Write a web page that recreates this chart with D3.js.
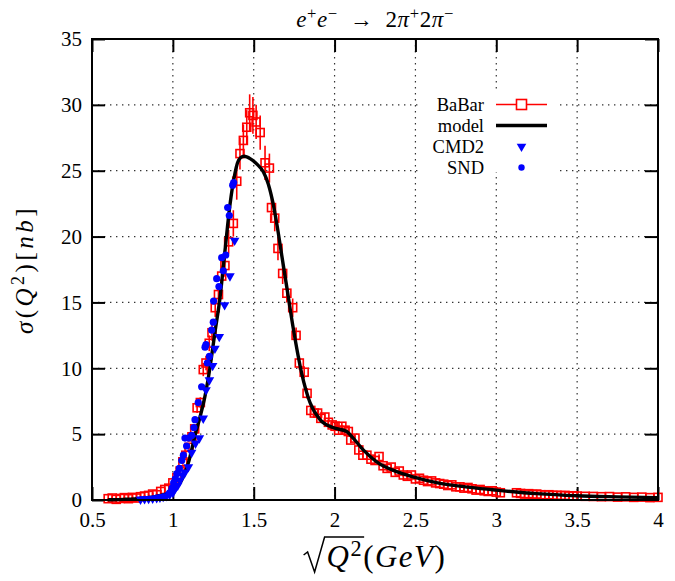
<!DOCTYPE html>
<html>
<head>
<meta charset="utf-8">
<script src="https://cdn.jsdelivr.net/npm/d3@7"></script>
<style>
  body { margin: 0; background: #fff; }
  text { font-family: "Liberation Serif", "DejaVu Serif", serif; fill: #000; }
</style>
</head>
<body>
<div id="chart"></div>
<script>
// axis ticks
let xTicks = [0.5, 1, 1.5, 2, 2.5, 3, 3.5, 4];
let xTickLabels = ["0.5", "1", "1.5", "2", "2.5", "3", "3.5", "4"];
let yTicks = [0, 5, 10, 15, 20, 25, 30, 35];
let yTickLabels = ["0", "5", "10", "15", "20", "25", "30", "35"];

// BaBar: energy (GeV), cross section (nb), error
let babarE = [
  0.600, 0.625, 0.650, 0.675, 0.700, 0.725, 0.750, 0.775, 0.800, 0.825,
  0.850, 0.875, 0.900, 0.925, 0.950, 0.975, 1.000, 1.025, 1.045, 1.062,
  1.080, 1.100, 1.118, 1.135, 1.150, 1.170, 1.188, 1.205, 1.225, 1.242,
  1.262, 1.282, 1.302, 1.322, 1.345, 1.374, 1.395, 1.415, 1.436, 1.457,
  1.475, 1.495, 1.515, 1.540, 1.570, 1.597, 1.610, 1.630, 1.650, 1.679,
  1.705, 1.741, 1.762, 1.782, 1.812, 1.830, 1.853, 1.875, 1.895, 1.915,
  1.940, 1.962, 1.985, 2.003, 2.025, 2.045, 2.065, 2.085, 2.100, 2.126,
  2.150, 2.175, 2.200, 2.225, 2.250, 2.275, 2.300, 2.325, 2.350, 2.375,
  2.400, 2.425, 2.450, 2.475, 2.500, 2.525, 2.550, 2.575, 2.600, 2.625,
  2.650, 2.675, 2.700, 2.725, 2.750, 2.775, 2.800, 2.825, 2.850, 2.875,
  2.900, 2.925, 2.950, 2.975, 3.000, 3.025, 3.125, 3.150, 3.175, 3.200,
  3.225, 3.250, 3.275, 3.300, 3.325, 3.350, 3.375, 3.400, 3.425, 3.450,
  3.475, 3.500, 3.550, 3.600, 3.650, 3.700, 3.750, 3.800, 3.850, 3.900,
  3.950, 4.000
];
let babarSigma = [
  0.10, 0.15, 0.05, 0.12, 0.18, 0.10, 0.20, 0.15, 0.25, 0.30,
  0.35, 0.45, 0.40, 0.65, 0.80, 0.90, 1.30, 1.70, 2.20, 2.90,
  3.40, 4.00, 4.80, 5.40, 7.00, 7.40, 9.90, 10.4, 11.9, 12.7,
  14.6, 15.6, 17.0, 17.8, 19.6, 21.0, 24.2, 26.3, 27.3, 28.3,
  29.4, 29.2, 28.7, 27.9, 25.6, 25.2, 22.2, 21.4, 19.1, 17.2,
  15.7, 14.6, 12.5, 10.4, 9.7, 8.1, 6.8, 6.6, 6.6, 6.2,
  6.3, 5.9, 5.7, 5.6, 5.3, 5.6, 5.3, 5.2, 4.55, 4.7,
  3.8, 3.4, 3.4, 3.1, 3.0, 3.3, 2.6, 2.4, 2.5, 2.1,
  2.2, 1.9, 1.8, 1.9, 1.6, 1.65, 1.5, 1.4, 1.45, 1.3,
  1.25, 1.2, 1.1, 1.15, 1.0, 1.0, 0.9, 0.95, 0.85, 0.75,
  0.8, 0.7, 0.65, 0.7, 0.6, 0.55, 0.55, 0.50, 0.45, 0.48,
  0.42, 0.45, 0.40, 0.38, 0.40, 0.35, 0.36, 0.33, 0.35, 0.30,
  0.32, 0.30, 0.28, 0.27, 0.25, 0.26, 0.22, 0.24, 0.20, 0.22,
  0.18, 0.20
];
let babarErr = [
  0.05, 0.05, 0.05, 0.05, 0.06, 0.06, 0.06, 0.07, 0.07, 0.08,
  0.08, 0.09, 0.10, 0.10, 0.12, 0.13, 0.15, 0.18, 0.20, 0.22,
  0.25, 0.28, 0.30, 0.35, 0.40, 0.40, 0.50, 0.55, 0.60, 0.60,
  0.70, 0.75, 0.80, 0.85, 0.90, 1.00, 1.40, 1.20, 1.20, 1.30,
  1.40, 1.40, 1.30, 1.30, 1.30, 1.10, 1.00, 1.00, 0.90, 0.80,
  0.70, 0.70, 0.60, 0.50, 0.45, 0.40, 0.35, 0.35, 0.30, 0.30,
  0.30, 0.30, 0.28, 0.28, 0.27, 0.27, 0.26, 0.26, 0.25, 0.25,
  0.22, 0.20, 0.20, 0.20, 0.18, 0.18, 0.17, 0.16, 0.16, 0.15,
  0.15, 0.14, 0.14, 0.13, 0.12, 0.12, 0.12, 0.11, 0.11, 0.10,
  0.10, 0.10, 0.10, 0.10, 0.09, 0.09, 0.09, 0.09, 0.08, 0.08,
  0.08, 0.08, 0.07, 0.07, 0.07, 0.07, 0.07, 0.07, 0.06, 0.06,
  0.06, 0.06, 0.06, 0.06, 0.06, 0.05, 0.05, 0.05, 0.05, 0.05,
  0.05, 0.05, 0.05, 0.05, 0.05, 0.05, 0.05, 0.05, 0.05, 0.05,
  0.05, 0.05
];

// model curve
let modelE = [
  0.60, 0.70, 0.80, 0.90, 0.95, 1.00, 1.05, 1.10, 1.137, 1.168,
  1.199, 1.23, 1.261, 1.29, 1.323, 1.353, 1.384, 1.40, 1.42, 1.44,
  1.48, 1.52, 1.56, 1.59, 1.62, 1.645, 1.673, 1.704, 1.745, 1.797,
  1.848, 1.91, 1.99, 2.075, 2.115, 2.177, 2.26, 2.384, 2.497, 2.63,
  2.838, 3.0, 3.25, 3.5, 3.75, 4.0
];
let modelSigma = [
  0.02, 0.05, 0.12, 0.28, 0.42, 0.65, 1.4, 3.0, 4.9, 6.3,
  7.9, 10.1, 12.8, 15.2, 19.0, 22.4, 24.8, 25.6, 26.0, 26.1,
  25.9, 25.5, 24.9, 24.0, 22.5, 20.8, 18.6, 16.2, 13.0, 9.6,
  7.4, 6.1, 5.5, 5.2, 4.7, 3.8, 2.9, 2.15, 1.72, 1.32,
  0.96, 0.75, 0.48, 0.32, 0.24, 0.18
];

// CMD2
let cmd2E = [
  0.800, 0.825, 0.850, 0.875, 0.900, 0.920, 0.940, 0.960, 0.980, 1.000,
  1.015, 1.030, 1.045, 1.060, 1.075, 1.096, 1.116, 1.140, 1.164, 1.188,
  1.205, 1.226, 1.246, 1.260, 1.287, 1.320, 1.353, 1.382
];
let cmd2Sigma = [
  0.05, 0.08, 0.10, 0.12, 0.15, 0.20, 0.25, 0.30, 0.40, 0.55,
  0.90, 1.10, 1.50, 1.90, 2.10, 2.50, 3.60, 4.30, 4.70, 6.20,
  8.35, 9.10, 10.2, 11.5, 12.4, 14.8, 17.0, 19.7
];

// SND
let sndE = [
  0.980, 0.995, 1.005, 1.015, 1.025, 1.040, 1.055, 1.065, 1.075, 1.085,
  1.098, 1.116, 1.130, 1.137, 1.157, 1.178, 1.199, 1.205, 1.213, 1.226,
  1.240, 1.250, 1.252, 1.271, 1.285, 1.302, 1.312, 1.327, 1.339, 1.349,
  1.370, 1.376
];
let sndSigma = [
  0.55, 0.90, 1.30, 1.60, 2.00, 2.40, 3.00, 3.40, 4.70, 4.10,
  4.70, 4.90, 5.50, 6.10, 7.40, 8.60, 11.6, 11.8, 10.4, 10.9,
  12.9, 13.5, 15.1, 16.8, 16.2, 18.4, 17.4, 18.6, 22.2, 21.6,
  23.9, 24.1
];

let svgWidth = 675;
let svgHeight = 581;
let margin = { top: 39, right: 17, bottom: 81, left: 92 };
let width = svgWidth - margin.left - margin.right;
let height = svgHeight - margin.top - margin.bottom;

let svg = d3.select("#chart")
  .append("svg")
  .attr("width", svgWidth)
  .attr("height", svgHeight)
  .style("display", "block");

let chart = svg.append("g")
  .attr("transform", `translate(${margin.left}, ${margin.top})`);

let x = d3.scaleLinear().domain([0.5, 4]).range([0, width]);
let y = d3.scaleLinear().domain([0, 35]).range([height, 0]);

// dotted grid
let gridStyle = g => g.attr("stroke", "#333").attr("stroke-width", 1.2).attr("stroke-dasharray", "1.4,4.6");
chart.append("g").call(gridStyle)
  .selectAll("line").data(xTicks.slice(1, -1)).join("line")
  .attr("x1", d => x(d)).attr("x2", d => x(d))
  .attr("y1", 0).attr("y2", height);
chart.append("g").call(gridStyle)
  .selectAll("line").data(yTicks.slice(1, -1)).join("line")
  .attr("y1", d => y(d)).attr("y2", d => y(d))
  .attr("x1", 0).attr("x2", width);

// opaque key box
let key = { x: 326, y: 51, w: 139, h: 82 };
chart.append("rect")
  .attr("x", key.x).attr("y", key.y)
  .attr("width", key.w).attr("height", key.h)
  .attr("fill", "#fff");

// axes with inward ticks on all four sides
function styleAxis(g, fontSize) {
  g.select(".domain").remove();
  g.selectAll(".tick line").attr("stroke", "#000").attr("stroke-width", 2);
  g.selectAll(".tick text")
    .attr("font-family", "Liberation Serif, DejaVu Serif, serif")
    .attr("font-size", fontSize)
    .attr("fill", "#000");
}

chart.append("g")
  .attr("transform", `translate(0, ${height})`)
  .call(d3.axisBottom(x).tickValues(xTicks).tickFormat((d, i) => xTickLabels[i]).tickSize(-13).tickPadding(12))
  .call(g => styleAxis(g, 21));
chart.append("g")
  .call(d3.axisTop(x).tickValues(xTicks).tickFormat("").tickSize(-13))
  .call(g => styleAxis(g, 21));
chart.append("g")
  .call(d3.axisLeft(y).tickValues(yTicks).tickFormat((d, i) => yTickLabels[i]).tickSize(-13).tickPadding(10))
  .call(g => styleAxis(g, 21));
chart.append("g")
  .attr("transform", `translate(${width}, 0)`)
  .call(d3.axisRight(y).tickValues(yTicks).tickFormat("").tickSize(-13))
  .call(g => styleAxis(g, 21));

// BaBar points with error bars
let babar = babarE.map((e, i) => ({ e: e, s: babarSigma[i], err: babarErr[i] }));
let boxSize = 8;

chart.append("g")
  .selectAll("line").data(babar).join("line")
  .attr("x1", d => x(d.e)).attr("x2", d => x(d.e))
  .attr("y1", d => y(d.s - d.err)).attr("y2", d => y(d.s + d.err))
  .attr("stroke", "#ff0000").attr("stroke-width", 1.6);

chart.append("g")
  .selectAll("rect").data(babar).join("rect")
  .attr("x", d => x(d.e) - boxSize / 2)
  .attr("y", d => y(d.s) - boxSize / 2)
  .attr("width", boxSize).attr("height", boxSize)
  .attr("fill", "none").attr("stroke", "#ff0000").attr("stroke-width", 1.6);

// model
let line = d3.line()
  .x((d, i) => x(modelE[i]))
  .y(d => y(d))
  .curve(d3.curveMonotoneX);

chart.append("path")
  .datum(modelSigma)
  .attr("d", line)
  .attr("fill", "none")
  .attr("stroke", "#000")
  .attr("stroke-width", 3.4)
  .attr("stroke-linejoin", "round");

// CMD2 down triangles
let tri = d3.symbol().type(d3.symbolTriangle).size(40);
chart.append("g")
  .selectAll("path").data(cmd2E).join("path")
  .attr("d", tri)
  .attr("transform", (d, i) => `translate(${x(d)}, ${y(cmd2Sigma[i])}) rotate(180)`)
  .attr("fill", "#0000ff");

// SND dots
chart.append("g")
  .selectAll("circle").data(sndE).join("circle")
  .attr("cx", d => x(d))
  .attr("cy", (d, i) => y(sndSigma[i]))
  .attr("r", 3.6)
  .attr("fill", "#0000ff");

// frame
chart.append("rect")
  .attr("width", width).attr("height", height)
  .attr("fill", "none").attr("stroke", "#000").attr("stroke-width", 2);

// key
let keyTextX = 392;
let keySampleX1 = 404, keySampleX2 = 455, keyMid = 429.5;
let keyRows = [65.5, 86.5, 107.5, 128.5];
let keyNames = ["BaBar", "model", "CMD2", "SND"];

chart.append("g")
  .selectAll("text").data(keyNames).join("text")
  .attr("x", keyTextX)
  .attr("y", (d, i) => keyRows[i] + 6)
  .attr("text-anchor", "end")
  .attr("font-size", 18.5)
  .text(d => d);

chart.append("line")
  .attr("x1", keySampleX1).attr("x2", keySampleX2)
  .attr("y1", keyRows[0]).attr("y2", keyRows[0])
  .attr("stroke", "#ff0000").attr("stroke-width", 1.6);
chart.append("rect")
  .attr("x", keyMid - 5).attr("y", keyRows[0] - 5)
  .attr("width", 10).attr("height", 10)
  .attr("fill", "#fff").attr("stroke", "#ff0000").attr("stroke-width", 1.6);
chart.append("line")
  .attr("x1", keySampleX1).attr("x2", keySampleX2)
  .attr("y1", keyRows[1]).attr("y2", keyRows[1])
  .attr("stroke", "#000").attr("stroke-width", 3.4);
chart.append("path")
  .attr("d", tri)
  .attr("transform", `translate(${keyMid}, ${keyRows[2]}) rotate(180)`)
  .attr("fill", "#0000ff");
chart.append("circle")
  .attr("cx", keyMid).attr("cy", keyRows[3]).attr("r", 3.2)
  .attr("fill", "#0000ff");

// text with italics and superscripts
function addRich(sel, parts, size) {
  let shift = 0;
  parts.forEach(p => {
    let target = p.sup ? -0.36 * size : 0;
    let ts = sel.append("tspan").text(p.t).attr("dy", target - shift);
    shift = target;
    if (p.sup) ts.attr("font-size", size * 0.72);
    if (p.it) ts.attr("font-style", "italic");
  });
}

let title = chart.append("text")
  .attr("x", width / 2).attr("y", -12)
  .attr("text-anchor", "middle")
  .attr("font-size", 23)
  .attr("letter-spacing", 0.6);
addRich(title, [
  { t: "e", it: 1 }, { t: "+", sup: 1 }, { t: "e", it: 1 }, { t: "\u2212", sup: 1 },
  { t: "\u2002\u2192\u20022" }, { t: "\u03c0", it: 1 }, { t: "+", sup: 1 },
  { t: "2" }, { t: "\u03c0", it: 1 }, { t: "\u2212", sup: 1 }
], 23);

let yLabel = chart.append("text")
  .attr("transform", `translate(-59, ${height / 2}) rotate(-90)`)
  .attr("text-anchor", "middle")
  .attr("font-size", 25)
  .attr("letter-spacing", 3.5);
addRich(yLabel, [
  { t: "\u03c3", it: 1 }, { t: "(" }, { t: "Q", it: 1 }, { t: "2", sup: 1 },
  { t: ")[" }, { t: "nb", it: 1 }, { t: "]" }
], 25);

// x label: radical drawn as a path over Q^2
let xlSize = 31;
let xlBase = height + 67;
let xLabel = chart.append("text")
  .attr("y", xlBase)
  .attr("font-size", xlSize)
  .attr("letter-spacing", 1.5);
addRich(xLabel, [
  { t: "Q", it: 1 }, { t: "2", sup: 1 }, { t: "(" }, { t: "GeV", it: 1 }, { t: ")" }
], xlSize);

let radW = 23;
let fullLen = xLabel.node().getComputedTextLength();
let qLen = xLabel.node().getSubStringLength(0, 2);
let startX = width / 2 - (radW + fullLen) / 2;
xLabel.attr("x", startX + radW);

let rx = startX;
let radTop = xlBase - 30;
chart.append("path")
  .attr("d", `M${rx},${xlBase - 12} L${rx + 4},${xlBase - 15} L${rx + 11},${xlBase + 5} L${rx + 21},${radTop} L${rx + radW + qLen + 1},${radTop}`)
  .attr("fill", "none")
  .attr("stroke", "#000")
  .attr("stroke-width", 1.5)
  .attr("stroke-linejoin", "miter");
</script>
</body>
</html>
